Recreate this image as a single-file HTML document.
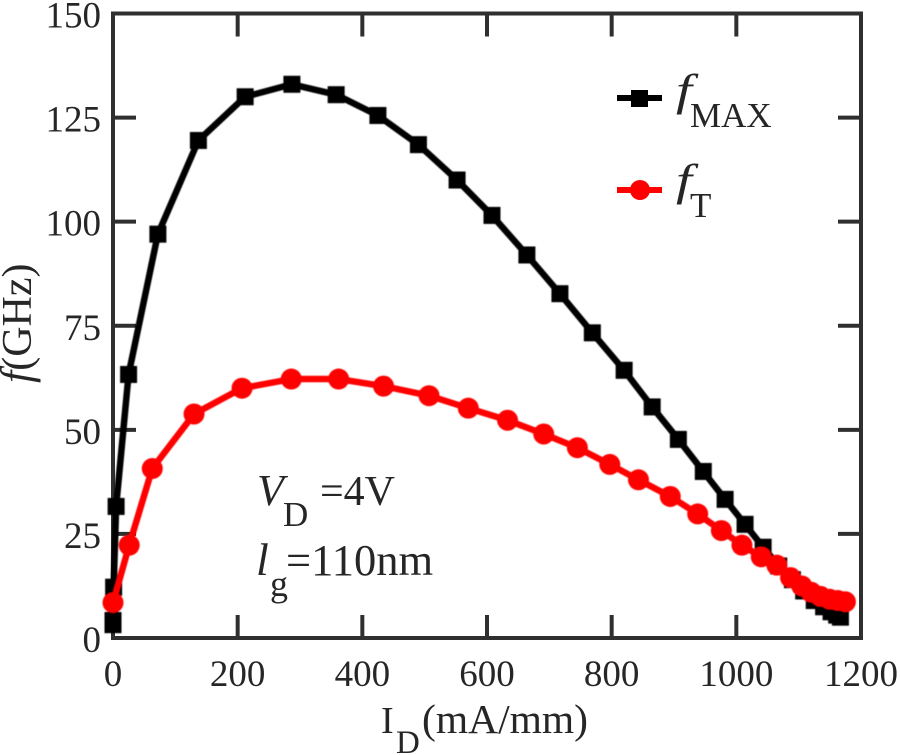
<!DOCTYPE html>
<html lang="en">
<head>
<meta charset="utf-8">
<title>fMAX and fT versus drain current</title>
<style>
html,body{margin:0;padding:0;background:#fff;}
svg{display:block;}
text{font-family:"Liberation Serif",serif;fill:#262626;}
.tick{font-size:37px;}
</style>
</head>
<body>
<svg id="chart" xmlns="http://www.w3.org/2000/svg" width="900" height="755" viewBox="0 0 900 755">
  <g id="frame" style="filter:blur(0.3px)"></g>
  <g id="marks" style="filter:blur(0.4px)"></g>
  <g id="labels"></g>

  <g>
    <g>
      <line x1="617" x2="662" y1="98" y2="98" stroke="#000" stroke-width="6"/>
      <rect x="631" y="90" width="17" height="17" fill="#000"/>
      <text transform="translate(676,105) scale(1.3,1)" font-size="44" font-style="italic">f</text>
      <text x="690" y="127" font-size="35">MAX</text>
    </g>
    <g>
      <line x1="617" x2="662" y1="190" y2="190" stroke="#f00" stroke-width="6"/>
      <circle cx="640" cy="190" r="10" fill="#f00"/>
      <text transform="translate(676,195) scale(1.3,1)" font-size="44" font-style="italic">f</text>
      <text x="690" y="217" font-size="35">T</text>
    </g>
  </g>

  <g>
    <text x="257" y="505" font-size="44" font-style="italic">V</text>
    <text x="283" y="526" font-size="35">D</text>
    <text x="320" y="505" font-size="42">=4V</text>
    <text x="256" y="575" font-size="46" font-style="italic">l</text>
    <text x="270" y="596" font-size="36">g</text>
    <text x="286" y="575" font-size="44.5">=110nm</text>
  </g>

  <g>
    <text x="381" y="733" font-size="38">I</text>
    <text x="396" y="753" font-size="33">D</text>
    <text x="422" y="733" font-size="41.5">(mA/mm)</text>
  </g>
  <text transform="translate(31,383) rotate(-90)" font-size="42"><tspan font-style="italic" font-size="44">f</tspan>(GHz)</text>
</svg>

<script>
const xTickValues = [0, 200, 400, 600, 800, 1000, 1200];
const yTickValues = [0, 25, 50, 75, 100, 125, 150];

const fMaxCurrent = [0, 0, 1, 5, 25, 72, 137, 212, 287, 358, 425, 490, 552, 608, 664, 717, 769, 820, 865, 907, 947, 982, 1014, 1043, 1068, 1090, 1108, 1125, 1140, 1152, 1161, 1167];
const fMaxValues = [3.2, 4.2, 12.2, 31.6, 63.3, 97, 119.5, 130, 133, 130.5, 125.5, 118.5, 110, 101.5, 92, 82.7, 73.3, 64.3, 55.5, 47.7, 40, 33.3, 27.3, 21.8, 17.3, 14, 11.3, 9, 7.5, 6.3, 5.5, 5];

const fTCurrent = [0, 26, 63, 130, 207, 286, 362, 434, 507, 570, 633, 691, 745, 797, 843, 894, 938, 976, 1009, 1040, 1065, 1087, 1105, 1120, 1135, 1150, 1163, 1175];
const fTValues = [8.5, 22.3, 40.7, 53.8, 60, 62.2, 62.2, 60.5, 58.2, 55.2, 52.3, 49, 45.7, 41.7, 38, 34, 29.8, 25.8, 22.3, 19.5, 17.5, 14.5, 12.5, 11, 10, 9.3, 9, 8.7];

const NS = 'http://www.w3.org/2000/svg';
const plot = { left: 113, right: 861, top: 13.5, bottom: 638 };
const xMax = 1200;
const yMax = 150;

function xScale(v) { return plot.left + (v / xMax) * (plot.right - plot.left); }
function yScale(v) { return plot.bottom - (v / yMax) * (plot.bottom - plot.top); }

function make(tag, attrs, parent) {
  const el = document.createElementNS(NS, tag);
  for (const k in attrs) el.setAttribute(k, attrs[k]);
  parent.appendChild(el);
  return el;
}

const frame = document.getElementById('frame');
const marks = document.getElementById('marks');
const labels = document.getElementById('labels');
const axisColor = '#2f2f2f';
const tickLen = 23;

const box = make('rect', { x: plot.left, y: plot.top, width: plot.right - plot.left, height: plot.bottom - plot.top, fill: 'none', stroke: axisColor, 'stroke-width': 4 }, frame);



xTickValues.forEach(function (v) {
  const x = xScale(v);
  if (v > 0 && v < xMax) {
    const b = make('line', { x1: x, x2: x, y1: plot.bottom, y2: plot.bottom - tickLen, stroke: axisColor, 'stroke-width': 4 }, frame);
    
    
    const t = make('line', { x1: x, x2: x, y1: plot.top, y2: plot.top + tickLen, stroke: axisColor, 'stroke-width': 4 }, frame);
    
    
  }
  const label = make('text', { x: x, y: 686, 'text-anchor': 'middle', class: 'tick' }, labels);
  
  
  label.textContent = String(v);
});

yTickValues.forEach(function (v) {
  const y = yScale(v);
  if (v > 0 && v < yMax) {
    const l = make('line', { x1: plot.left, x2: plot.left + tickLen, y1: y, y2: y, stroke: axisColor, 'stroke-width': 4 }, frame);
    
    
    const r = make('line', { x1: plot.right, x2: plot.right - tickLen, y1: y, y2: y, stroke: axisColor, 'stroke-width': 4 }, frame);
    
    
  }
  const label = make('text', { x: 101, y: y + 14, 'text-anchor': 'end', class: 'tick' }, labels);
  
  
  label.textContent = String(v);
});

function pointsOf(xs, ys) {
  return xs.map(function (x, i) { return xScale(x) + ',' + yScale(ys[i]); }).join(' ');
}

const fMaxLine = make('polyline', { points: pointsOf(fMaxCurrent, fMaxValues), fill: 'none', stroke: '#000', 'stroke-width': 6.5, 'stroke-linejoin': 'round' }, marks);



fMaxCurrent.forEach(function (x, i) {
  const size = 17;
  const p = make('rect', { x: xScale(x) - size / 2, y: yScale(fMaxValues[i]) - size / 2, width: size, height: size, fill: '#000' }, marks);
  
  
});

const fTLine = make('polyline', { points: pointsOf(fTCurrent, fTValues), fill: 'none', stroke: '#f00', 'stroke-width': 6.5, 'stroke-linejoin': 'round' }, marks);



fTCurrent.forEach(function (x, i) {
  const p = make('circle', { cx: xScale(x), cy: yScale(fTValues[i]), r: 10.5, fill: '#f00' }, marks);
  
  
});
</script>
</body>
</html>
